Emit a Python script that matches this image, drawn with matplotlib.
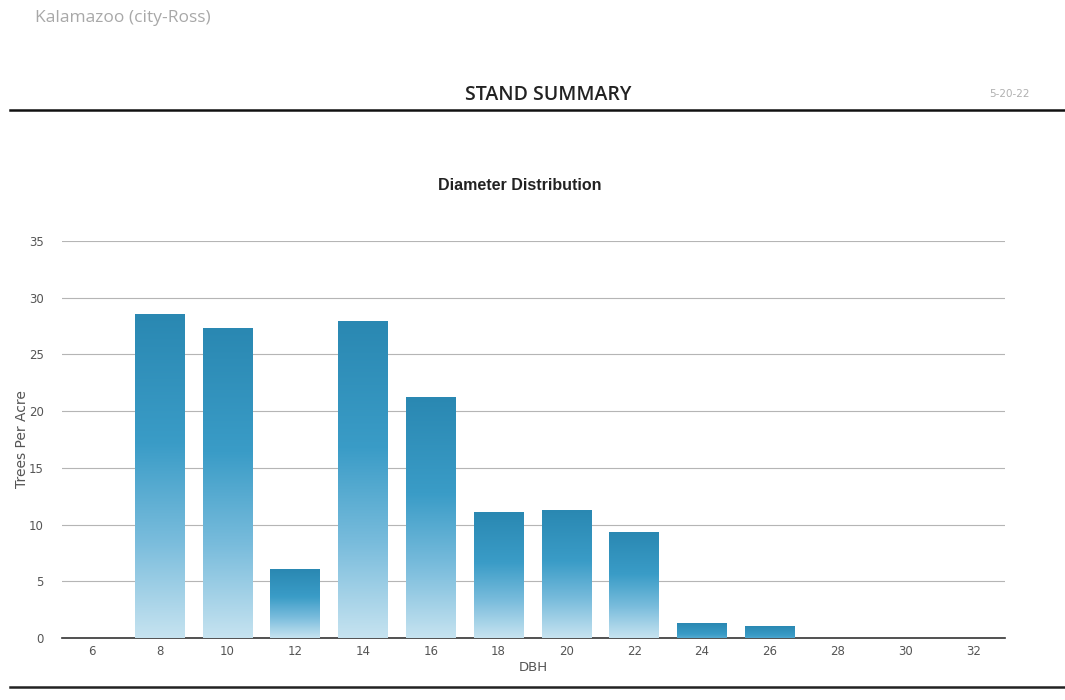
import numpy as np
import matplotlib
matplotlib.use("Agg")
import matplotlib.pyplot as plt
from matplotlib.colors import LinearSegmentedColormap
from matplotlib.lines import Line2D

# diameter classes (inches) and trees per acre
dbh_classes = ["6", "8", "10", "12", "14", "16", "18", "20", "22", "24", "26", "28", "30", "32"]
trees_per_acre = [0, 28.5, 27.3, 6.0, 27.9, 21.2, 11.1, 11.2, 9.3, 1.3, 1.0, 0, 0, 0]
y_ticks = [0, 5, 10, 15, 20, 25, 30, 35]

page_title = "Kalamazoo (city-Ross)"
header = "STAND SUMMARY"
date_str = "5-20-22"
chart_title = "Diameter Distribution"

fig = plt.figure(figsize=(10.65, 7.0), dpi=100)
fig.patch.set_facecolor("white")

# page header
fig.text(35 / 1065, 1 - 18 / 700, page_title, fontsize=12.5, color="#a8a8a8",
         family="Open Sans", va="center", ha="left")
fig.text(548 / 1065, 1 - 95 / 700, header, fontsize=14, color="#222222",
         family="Open Sans", weight="semibold", va="center", ha="center")
fig.text(1030 / 1065, 1 - 94 / 700, date_str, fontsize=7.5, color="#b0b0b0",
         family="DejaVu Sans", va="center", ha="right")
fig.add_artist(Line2D([10 / 1065, 1.0], [1 - 110 / 700] * 2, color="#111111", lw=1.8))
fig.add_artist(Line2D([10 / 1065, 1.0], [1 - 687 / 700] * 2, color="#222222", lw=1.8))

ax = fig.add_axes([62 / 1065, 1 - 638 / 700, (1005 - 62) / 1065, (638 - 241) / 700])
ax.set_facecolor("white")

x = np.arange(len(dbh_classes))
bar_w = 0.73
bars = ax.bar(x, trees_per_acre, width=bar_w, color="none", edgecolor="none", zorder=3)

grad_cmap = LinearSegmentedColormap.from_list(
    "tpa", [(0.0, "#c6e3f0"), (0.3, "#79bcdc"), (0.6, "#3a9cc7"), (1.0, "#2a88b2")])
grad = np.linspace(0, 1, 256).reshape(-1, 1)
for b in bars:
    h = b.get_height()
    if h <= 0:
        continue
    x0 = b.get_x()
    # short bars stay darker overall
    lo = max(0.0, 0.6 - h / 10.0) if h < 6 else 0.0
    g = lo + (1 - lo) * grad
    ax.imshow(g, extent=(x0, x0 + b.get_width(), 0, h), origin="lower",
              aspect="auto", cmap=grad_cmap, vmin=0, vmax=1, zorder=3,
              interpolation="bicubic")

ax.set_xlim(-0.44, 13.47)
ax.set_ylim(0, 35)
ax.set_yticks(y_ticks)
ax.set_xticks(x)
ax.set_xticklabels(dbh_classes)
ax.tick_params(length=0, labelsize=8.5, labelcolor="#555555")
ax.tick_params(axis="y", pad=13)
ax.tick_params(axis="x", pad=5)

for yv in y_ticks[1:]:
    ax.axhline(yv, color="#b5b5b5", lw=0.8, zorder=1)
ax.axhline(0, color="#333333", lw=1.2, zorder=2, clip_on=False)

for s in ax.spines.values():
    s.set_visible(False)

ax.set_xlabel("DBH", fontsize=9.5, color="#555555", labelpad=2)
ax.set_ylabel("Trees Per Acre", fontsize=10, color="#555555", labelpad=0)
fig.text(520 / 1065, 1 - 185 / 700, chart_title, fontsize=11.5, color="#222222",
         family="Liberation Sans", weight="bold", ha="center", va="center")

fig.savefig("out.png", dpi=100, facecolor="white")
